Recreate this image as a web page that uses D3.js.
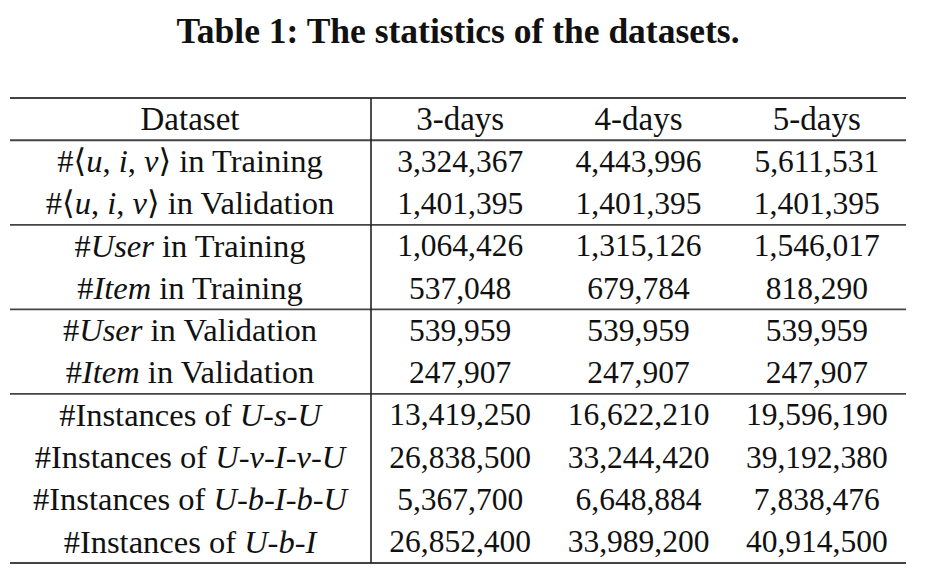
<!DOCTYPE html>
<html><head><meta charset="utf-8">
<script src="https://cdn.jsdelivr.net/npm/d3@7"></script>
<style>body{margin:0;background:#fff;} svg{display:block;}</style>
</head><body>
<script>
const title = "Table 1: The statistics of the datasets.";
const headerLabel = "Dataset";
const columns = ["3-days", "4-days", "5-days"];
// *...* marks italic segments
const rowLabels = [
  "#⟨*u*, *i*, *v*⟩ in Training",
  "#⟨*u*, *i*, *v*⟩ in Validation",
  "#*User* in Training",
  "#*Item* in Training",
  "#*User* in Validation",
  "#*Item* in Validation",
  "#Instances of *U-s-U*",
  "#Instances of *U-v-I-v-U*",
  "#Instances of *U-b-I-b-U*",
  "#Instances of *U-b-I*"
];
const values3 = [3324367, 1401395, 1064426, 537048, 539959, 247907, 13419250, 26838500, 5367700, 26852400];
const values4 = [4443996, 1401395, 1315126, 679784, 539959, 247907, 16622210, 33244420, 6648884, 33989200];
const values5 = [5611531, 1401395, 1546017, 818290, 539959, 247907, 19596190, 39192380, 7838476, 40914500];
const groupBreaksAfter = [2, 4, 6]; // separator after these data rows

const W = 937, H = 575;
const font = "'Liberation Serif', 'DejaVu Serif', serif";
const svg = d3.select("body").append("svg").attr("width", W).attr("height", H);

svg.append("text").attr("x", 458).attr("y", 43)
  .attr("text-anchor", "middle").attr("font-family", font)
  .attr("font-weight", "bold").attr("font-size", 35.5).attr("fill", "#111")
  .text(title);

const rowIdx = d3.range(rowLabels.length + 1);
const y = d3.scaleBand().domain(rowIdx).range([98, 563]).padding(0);
const x = d3.scaleBand().domain(columns).range([371, 906]);
const labelX = 190;
const fmt = d3.format(",");

function addRich(sel, str) {
  str.split("*").forEach((seg, i) => {
    if (!seg) return;
    sel.append("tspan").attr("font-style", i % 2 ? "italic" : "normal").text(seg);
  });
}

const g = svg.append("g").attr("font-family", font).attr("font-size", 32).attr("fill", "#111");

// header
g.append("text").attr("x", labelX).attr("y", y(0) + y.bandwidth() / 2)
  .attr("dy", "0.33em").attr("text-anchor", "middle").attr("font-size", 33).text(headerLabel);
columns.forEach(c => {
  g.append("text").attr("x", x(c) + x.bandwidth() / 2).attr("y", y(0) + y.bandwidth() / 2)
    .attr("dy", "0.33em").attr("text-anchor", "middle").attr("font-size", 33).text(c);
});

const series = [values3, values4, values5];
rowLabels.forEach((lab, r) => {
  const t = g.append("text").attr("x", labelX).attr("y", y(r + 1) + y.bandwidth() / 2)
    .attr("dy", "0.33em").attr("text-anchor", "middle").attr("font-size", 32.5);
  addRich(t, lab);
  columns.forEach((c, ci) => {
    g.append("text").attr("x", x(c) + x.bandwidth() / 2).attr("y", y(r + 1) + y.bandwidth() / 2)
      .attr("dy", "0.33em").attr("text-anchor", "middle").attr("font-size", 31.5).text(fmt(series[ci][r]));
  });
});

// rules
const x0 = 10, x1 = 906;
const hl = [
  {yy: y(0), w: 2},
  {yy: y(1), w: 1.8},
  ...groupBreaksAfter.map(k => ({yy: y(k + 1), w: 1.8})),
  {yy: y.range()[1], w: 2}
];
svg.selectAll("line.h").data(hl).join("line").attr("class", "h")
  .attr("x1", x0).attr("x2", x1).attr("y1", d => d.yy).attr("y2", d => d.yy)
  .attr("stroke", "#444").attr("stroke-width", d => d.w);
svg.append("line").attr("x1", x.range()[0]).attr("x2", x.range()[0])
  .attr("y1", y.range()[0]).attr("y2", y.range()[1])
  .attr("stroke", "#222").attr("stroke-width", 1.6);
</script>
</body></html>
